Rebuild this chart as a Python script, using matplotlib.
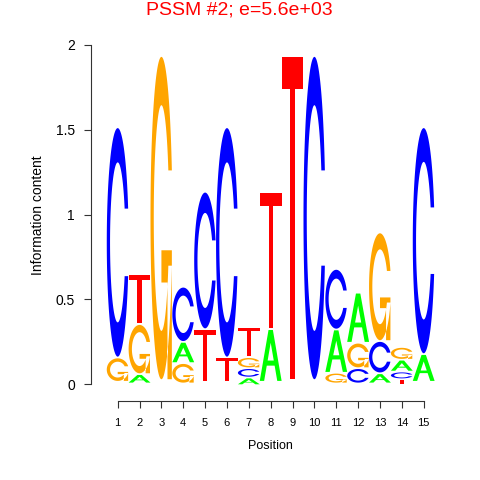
import numpy as np
import matplotlib
matplotlib.use("Agg")
import matplotlib.pyplot as plt
from matplotlib.path import Path
from matplotlib.patches import PathPatch

# information content per letter at each position
positions = list(range(1, 16))
letters = ["A", "C", "G", "T"]
height_A = [0.000, 0.045, 0.000, 0.115, 0.000, 0.000, 0.035, 0.300, 0.000, 0.000, 0.245, 0.285, 0.050, 0.060, 0.153]
height_C = [1.347, 0.000, 0.000, 0.315, 0.800, 1.347, 0.045, 0.000, 0.000, 1.900, 0.347, 0.080, 0.180, 0.035, 1.327]
height_G = [0.133, 0.285, 1.900, 0.110, 0.000, 0.000, 0.055, 0.000, 0.000, 0.000, 0.053, 0.140, 0.630, 0.065, 0.000]
height_T = [0.000, 0.285, 0.000, 0.000, 0.300, 0.133, 0.165, 0.800, 1.900, 0.000, 0.000, 0.000, 0.000, 0.025, 0.000]
letter_colors = {"A": "#00FF00", "C": "#0000FF", "G": "#FFA500", "T": "#FF0000"}

title = "PSSM #2; e=5.6e+03"
y_ticks = [0, 0.5, 1, 1.5, 2]
y_tick_labels = ["0", "0.5", "1", "1.5", "2"]

plt.rcParams["font.family"] = ["Liberation Sans", "DejaVu Sans"]


# glyph outlines in a unit box, same construction as the classic seqLogo letters
def ring_outline():
    a1 = np.linspace(0.3 + np.pi / 2, np.pi, 100)
    a2 = np.linspace(np.pi, 1.5 * np.pi, 100)
    xl = np.concatenate([0.5 + 0.5 * np.sin(a1), 0.5 + 0.5 * np.sin(a2)])
    yl1 = 0.5 + 0.5 * np.cos(a1)
    yl = np.concatenate([yl1, 0.5 + 0.5 * np.cos(a2)])
    x = np.concatenate([xl, xl[::-1]])
    y = np.concatenate([yl, 1 - yl[::-1]])
    xi1 = 0.5 + 0.35 * np.sin(a1)
    yi1 = 0.5 + 0.35 * np.cos(a1)
    keep = yi1 <= yl1.max()
    xi1, yi1 = xi1[keep], yi1[keep]
    yi1[0] = yl1.max()
    xi = np.concatenate([xi1, 0.5 + 0.35 * np.sin(a2)])
    yi = np.concatenate([yi1, 0.5 + 0.35 * np.cos(a2)])
    x1 = np.concatenate([xi, xi[::-1]])
    y1 = np.concatenate([yi, 1 - yi[::-1]])
    x = np.concatenate([x, x1[::-1]])
    y = np.concatenate([y, y1[::-1]])
    r1 = (0.5 + 0.5 * np.sin(a1)).max()
    return np.column_stack([x, y]), r1


def glyph_polys(letter):
    if letter == "A":
        outer = np.array([[0, 0], [4, 10], [6, 10], [10, 0], [8, 0], [6.8, 3],
                          [3.2, 3], [2, 0]]) * 0.1
        hole = np.array([[3.6, 4], [5, 7.5], [6.4, 4]])[::-1] * 0.1
        return [outer, hole]
    if letter == "T":
        return [np.array([[0, 10], [10, 10], [10, 9], [6, 9], [6, 0], [4, 0],
                          [4, 9], [0, 9]]) * 0.1]
    ring, r1 = ring_outline()
    if letter == "C":
        return [ring]
    h1 = 0.4
    bar = np.array([[r1, h1], [0.5, h1], [0.5, h1 - 0.1], [r1 - 0.2, h1 - 0.1],
                    [r1 - 0.2, 0], [r1, 0]])
    return [ring, bar]


def draw_letter(ax, letter, x0, y0, h, w=1.0):
    verts, codes = [], []
    for poly in glyph_polys(letter):
        pts = np.column_stack([x0 + w * poly[:, 0], y0 + h * poly[:, 1]])
        verts.extend(pts.tolist())
        verts.append(pts[0].tolist())
        codes.extend([Path.MOVETO] + [Path.LINETO] * (len(pts) - 1) + [Path.CLOSEPOLY])
    ax.add_patch(PathPatch(Path(verts, codes), facecolor=letter_colors[letter],
                           edgecolor="none"))


W, H = 480, 480
fig = plt.figure(figsize=(W / 100, H / 100), dpi=100)
left_px, right_px, top_px, bottom_px = 91, 440, 40, 401
ax = fig.add_axes([left_px / W, 1 - bottom_px / H,
                   (right_px - left_px) / W, (bottom_px - top_px) / H])

# pixel -> data mapping from the reference
x_unit = (423.7 - 117.7) / 14
y_unit = (384.3 - 45) / 2
ax.set_xlim(1 + (left_px - 117.7) / x_unit, 1 + (right_px - 117.7) / x_unit)
ax.set_ylim((384.3 - bottom_px) / y_unit, (384.3 - top_px) / y_unit)

heights = {"A": height_A, "C": height_C, "G": height_G, "T": height_T}
for i, pos in enumerate(positions):
    col = [(l, heights[l][i]) for l in letters]
    col = sorted(col, key=lambda c: c[1])  # stable: ties keep A,C,G,T order
    base = 0.0
    for letter, h in col:
        if h > 0:
            draw_letter(ax, letter, pos - 0.5, base, h)
        base += h + 0.01

for s in ["top", "right"]:
    ax.spines[s].set_visible(False)
ax.spines["left"].set_bounds(0, 2)
ax.spines["bottom"].set_bounds(1, 15)
for s in ["left", "bottom"]:
    ax.spines[s].set_color("#333333")
    ax.spines[s].set_linewidth(0.8)

ax.set_xticks(positions)
ax.set_xticklabels([str(p) for p in positions], fontsize=8)
ax.set_yticks(y_ticks)
ax.set_yticklabels(y_tick_labels, fontsize=10)
ax.tick_params(axis="both", direction="out", length=5.2, width=0.8, color="#333333")
ax.tick_params(axis="x", pad=7)
ax.tick_params(axis="y", pad=6.5)

fig.text(38 / W, 1 - 215 / H, "Information content", rotation=90,
         ha="center", va="center", fontsize=10)
fig.text(270.5 / W, 1 - 446 / H, "Position", ha="center", va="center", fontsize=9)
fig.text(239 / W, 1 - 14.5 / H, title, ha="center", va="baseline",
         fontsize=14, color="#FF0000")

fig.savefig("out.png", dpi=100)
